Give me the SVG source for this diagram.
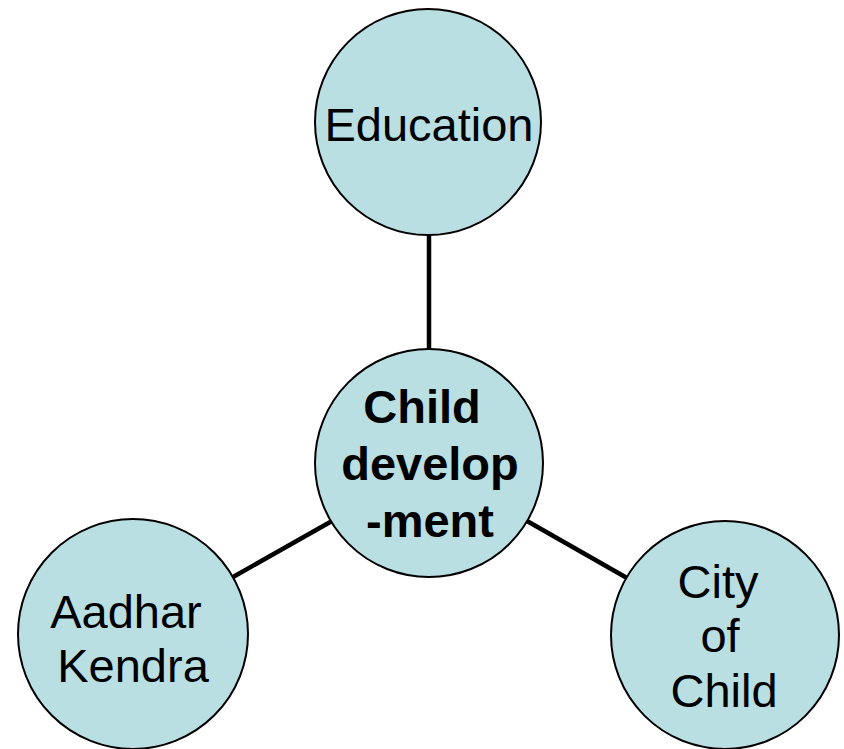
<svg xmlns="http://www.w3.org/2000/svg" width="844" height="749" viewBox="0 0 844 749">
<style>
.n{fill:#b9dfe3;stroke:#000;stroke-width:2}
.t{font-family:"Liberation Sans",Arial,sans-serif;font-size:47px;fill:#000;text-anchor:middle}
.b{font-weight:bold}
.c{stroke:#000;stroke-width:4.5;fill:none}
</style>
<rect width="844" height="749" fill="#fff"/>
<g id="connectors">
<line class="c" x1="429" y1="235" x2="429" y2="350"/>
<line class="c" x1="233" y1="577" x2="332" y2="521"/>
<line class="c" x1="527" y1="521" x2="627" y2="578"/>
</g>
<g id="education">
<circle class="n" cx="428" cy="122" r="113"/>
<text class="t" x="429" y="141">Education</text>
</g>
<g id="child-development">
<circle class="n" cx="429" cy="463" r="114"/>
<text class="t b" x="422" y="423">Child</text>
<text class="t b" x="430" y="480">develop</text>
<text class="t b" x="430" y="537">-ment</text>
</g>
<g id="aadhar-kendra">
<circle class="n" cx="133" cy="634" r="115"/>
<text class="t" x="126" y="628">Aadhar</text>
<text class="t" x="133" y="682">Kendra</text>
</g>
<g id="city-of-child">
<circle class="n" cx="725" cy="635" r="114"/>
<text class="t" x="718" y="598">City</text>
<text class="t" x="720" y="652">of</text>
<text class="t" x="724" y="707">Child</text>
</g>
</svg>
